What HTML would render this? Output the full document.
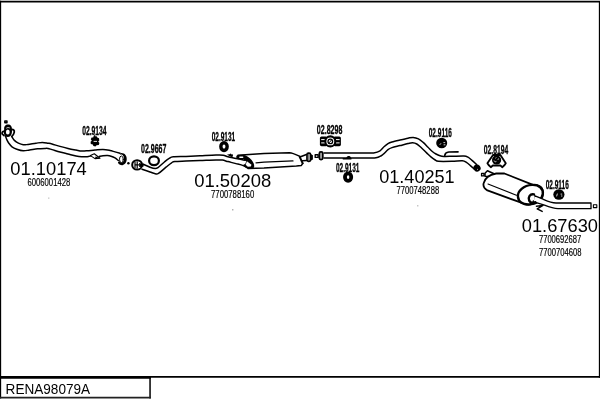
<!DOCTYPE html>
<html>
<head>
<meta charset="utf-8">
<title>RENA98079A</title>
<style>
html,body{margin:0;padding:0;background:#fff;}
body{width:600px;height:400px;overflow:hidden;position:relative;font-family:"Liberation Sans",sans-serif;}
svg{position:absolute;left:0;top:0;display:block;}
text{font-family:"Liberation Sans",sans-serif;fill:#000;}
.p{fill:none;stroke:#000;stroke-width:1.5;stroke-linecap:round;stroke-linejoin:round;}
.pw{fill:#fff;stroke:#000;stroke-width:1.5;stroke-linecap:round;stroke-linejoin:round;}
.t{fill:none;stroke:#000;stroke-width:2;stroke-linecap:round;stroke-linejoin:round;}
.tw{fill:#fff;stroke:#000;stroke-width:2;stroke-linecap:round;stroke-linejoin:round;}
.k{fill:#000;stroke:none;}
.w{fill:#fff;stroke:none;}
</style>
</head>
<body>
<svg width="600" height="400" viewBox="0 0 600 400">
<rect x="0" y="0" width="600" height="400" fill="#fff"/>
<!-- frame -->
<path d="M0.55 0.8V398.6" stroke="#000" stroke-width="1.2" fill="none"/>
<path d="M0 1.7H600" stroke="#000" stroke-width="1.7" fill="none"/>
<path d="M599.45 1V377.8" stroke="#000" stroke-width="1.2" fill="none"/>
<path d="M0 376.9H600" stroke="#000" stroke-width="1.8" fill="none"/>
<path d="M0 377.6H150.8" stroke="#000" stroke-width="2.4" fill="none"/>
<path d="M150.05 377V398.5" stroke="#000" stroke-width="1.5" fill="none"/>
<path d="M0 397.7H150.8" stroke="#222" stroke-width="1.7" fill="none"/>
<!-- text -->
<g style="opacity:0.999">
<text transform="translate(5.60 393.60) scale(0.9707 1)" style="font-size:14.0px;">RENA98079A</text>
<text transform="translate(10.30 174.80) scale(1.0365 1)" style="font-size:17.7px;">01.10174</text>
<text transform="translate(194.20 186.80) scale(1.0432 1)" style="font-size:17.7px;">01.50208</text>
<text transform="translate(379.20 183.00) scale(1.0229 1)" style="font-size:17.7px;">01.40251</text>
<text transform="translate(521.70 231.80) scale(1.0337 1)" style="font-size:17.7px;">01.67630</text>
<text transform="translate(27.40 185.60) scale(0.6967 1)" style="stroke:#000;stroke-width:0.2;font-size:11.1px;fill:#000;">6006001428</text>
<text transform="translate(211.00 197.70) scale(0.7000 1)" style="stroke:#000;stroke-width:0.2;font-size:11.1px;fill:#000;">7700788160</text>
<text transform="translate(396.40 193.70) scale(0.6935 1)" style="stroke:#000;stroke-width:0.2;font-size:11.1px;fill:#000;">7700748288</text>
<text transform="translate(538.90 242.50) scale(0.6870 1)" style="stroke:#000;stroke-width:0.2;font-size:11.1px;fill:#000;">7700692687</text>
<text transform="translate(538.90 255.80) scale(0.6903 1)" style="stroke:#000;stroke-width:0.2;font-size:11.1px;fill:#000;">7700704608</text>
<text transform="translate(82.15 135.00) scale(0.5401 1)" style="stroke:#000;stroke-width:0.35;font-size:12.5px;font-weight:bold;">02.9134</text>
<text transform="translate(141.05 153.00) scale(0.5600 1)" style="stroke:#000;stroke-width:0.35;font-size:12.5px;font-weight:bold;">02.9667</text>
<text transform="translate(211.65 141.00) scale(0.5202 1)" style="stroke:#000;stroke-width:0.35;font-size:12.5px;font-weight:bold;">02.9131</text>
<text transform="translate(316.85 133.70) scale(0.5645 1)" style="stroke:#000;stroke-width:0.35;font-size:12.5px;font-weight:bold;">02.8298</text>
<text transform="translate(335.95 171.80) scale(0.5202 1)" style="stroke:#000;stroke-width:0.35;font-size:12.5px;font-weight:bold;">02.9131</text>
<text transform="translate(428.75 137.20) scale(0.5202 1)" style="stroke:#000;stroke-width:0.35;font-size:12.5px;font-weight:bold;">02.9116</text>
<text transform="translate(483.85 153.80) scale(0.5401 1)" style="stroke:#000;stroke-width:0.35;font-size:12.5px;font-weight:bold;">02.8194</text>
<text transform="translate(545.65 189.00) scale(0.5202 1)" style="stroke:#000;stroke-width:0.35;font-size:12.5px;font-weight:bold;">02.9116</text>
</g>
<!-- drawing -->
<!-- specks -->
<rect x="48.3" y="197.6" width="1" height="1" fill="#999"/>
<rect x="232.3" y="209.2" width="1" height="1.2" fill="#777"/>
<rect x="417.3" y="205.2" width="1" height="1.2" fill="#999"/>

<!-- ===== front flange ===== -->
<rect class="pw" x="4.85" y="120.95" width="2.1" height="1.8" style="stroke-width:1.5"/>
<path class="k" d="M4.2 129.4C3.8 126.4 5.6 124.5 8 124.5C10.6 124.5 12.4 126.6 11.8 129.6C12.2 131 12 132 11.8 133C11.4 135.4 9.8 137 7.8 137C5.6 137 4 135.2 3.8 132.8C3.6 131.6 3.8 130.4 4.2 129.4Z"/>
<ellipse cx="7.8" cy="132" rx="1.9" ry="2.5" class="w"/>
<path d="M6.3 128.2C7.4 127.4 8.6 127.4 9.8 128" stroke="#fff" stroke-width="0.8" fill="none"/>
<path class="t" d="M11.4 129.4C13.6 129.2 14.6 130.6 14.2 132.4C13.8 134.2 13 135.4 11.8 136.4" style="stroke-width:1.8"/>
<path class="t" d="M3.6 131.4C2.2 131.8 1.6 133 2.4 134.2L4 135.6" style="stroke-width:1.7"/>
<!-- ===== front pipe 01.10174 ===== -->
<path class="p" d="M12.00 136.80C12.40 137.40 13.33 139.33 14.40 140.40C15.47 141.47 16.93 142.47 18.40 143.20C19.87 143.93 21.60 144.60 23.20 144.80C24.80 145.00 25.87 144.67 28.00 144.40C30.13 144.13 33.60 143.53 36.00 143.20C38.40 142.87 40.40 142.40 42.40 142.40C44.40 142.40 46.40 142.93 48.00 143.20C49.60 143.47 50.00 143.47 52.00 144.00C54.00 144.53 57.33 145.67 60.00 146.40C62.67 147.13 65.33 147.80 68.00 148.40C70.67 149.00 73.73 149.57 76.00 150.00C78.27 150.43 79.73 150.87 81.60 151.00C83.47 151.13 84.97 150.97 87.20 150.80C89.43 150.63 92.37 150.23 95.00 150.00C97.63 149.77 100.50 149.32 103.00 149.40C105.50 149.48 108.00 150.08 110.00 150.50C112.00 150.92 113.33 151.45 115.00 151.90C116.67 152.35 119.17 152.98 120.00 153.20"/>
<path class="p" d="M5.60 136.40C5.80 136.93 6.27 138.47 6.80 139.60C7.33 140.73 7.93 142.00 8.80 143.20C9.67 144.40 10.67 145.80 12.00 146.80C13.33 147.80 14.93 148.53 16.80 149.20C18.67 149.87 21.07 150.67 23.20 150.80C25.33 150.93 27.20 150.33 29.60 150.00C32.00 149.67 35.07 149.07 37.60 148.80C40.13 148.53 43.07 148.45 44.80 148.40C46.53 148.35 46.80 148.30 48.00 148.50C49.20 148.70 50.00 149.02 52.00 149.60C54.00 150.18 57.33 151.27 60.00 152.00C62.67 152.73 65.33 153.33 68.00 154.00C70.67 154.67 73.73 155.53 76.00 156.00C78.27 156.47 79.73 156.68 81.60 156.80C83.47 156.92 85.72 156.83 87.20 156.70C88.68 156.57 89.95 156.12 90.50 156.00"/>
<path class="p" d="M99.20 156.40C99.83 156.30 101.62 155.93 103.00 155.80C104.38 155.67 106.17 155.53 107.50 155.60C108.83 155.67 109.75 155.82 111.00 156.20C112.25 156.58 113.78 157.18 115.00 157.90C116.22 158.62 117.75 160.07 118.30 160.50"/>
<!-- bracket -->
<path class="pw" d="M90.4 155.6L94.3 153.8L100 158.2L95 158.6Z" style="stroke-width:1.1"/>
<path class="k" d="M95.5 156.4L100.4 158.2L95 159Z"/>
<!-- clamp 02.9134 -->
<path class="p" d="M94.8 135L94.6 137" style="stroke-width:1"/>
<path class="k" d="M93.5 136.3L96.6 136.2L97.3 137.6L99 138.2L99.3 140.6L98.2 141.5L99.4 143L98.8 145L96.6 145.2L95.4 146.4L93.4 146L92.8 144.6L90.8 144L90.6 141.8L91.8 140.8L90.8 139.2L91.6 137.4L93.2 137.4Z"/>
<rect class="w" x="93.6" y="140.9" width="3.4" height="0.9"/>
<!-- pipe-end flange -->
<g transform="translate(0.1 0.7)">
<path class="k" d="M120.6 152.4C124.5 152 127 155 126.6 159C126.2 162.6 123.6 165 120.6 164.4C119 164 118 162.8 117.8 161.4L119.6 160.6C120.6 162.2 122.4 162.4 123.4 160.4C124.4 158.4 124 155.6 122.4 154.4C121.6 153.8 120.6 153.8 119.6 154.2Z"/>
<ellipse cx="121.3" cy="158.6" rx="1.9" ry="3.3" class="pw" style="stroke-width:1"/>
</g>
<!-- dot -->
<circle cx="128.4" cy="163.3" r="1.25" class="k"/>
<!-- flange 2 -->
<ellipse cx="137.1" cy="164.9" rx="4.9" ry="4.7" class="tw" style="stroke-width:2"/>
<path class="p" d="M135 162V167.8M137.2 161.8V168M135 164.9H138.6" style="stroke-width:1.2"/>
<path class="k" d="M139 163L143.9 164.2L143.4 166.8L139.2 167Z"/>
<!-- ring 02.9667 -->
<ellipse cx="154" cy="160.8" rx="4.9" ry="4.4" class="tw" style="stroke-width:2.2"/>
<!-- ===== pipe 2 ===== -->
<path class="p" d="M142.80 164.00C144.00 164.53 147.93 166.43 150.00 167.20C152.07 167.97 153.87 168.53 155.20 168.60C156.53 168.67 156.47 168.70 158.00 167.60C159.53 166.50 162.53 163.53 164.40 162.00C166.27 160.47 167.73 159.27 169.20 158.40C170.67 157.53 170.40 157.13 173.20 156.80C176.00 156.47 181.53 156.57 186.00 156.40C190.47 156.23 195.00 156.02 200.00 155.80C205.00 155.58 212.13 155.20 216.00 155.10C219.87 155.00 221.20 154.92 223.20 155.20C225.20 155.48 225.87 156.27 228.00 156.80C230.13 157.33 233.27 157.83 236.00 158.40C238.73 158.97 243.00 159.90 244.40 160.20"/>
<path class="p" d="M142.00 169.20C143.33 169.67 147.67 171.20 150.00 172.00C152.33 172.80 154.53 173.80 156.00 174.00C157.47 174.20 157.13 174.33 158.80 173.20C160.47 172.07 163.87 168.93 166.00 167.20C168.13 165.47 170.13 163.73 171.60 162.80C173.07 161.87 172.40 161.88 174.80 161.60C177.20 161.32 181.80 161.27 186.00 161.10C190.20 160.93 195.00 160.78 200.00 160.60C205.00 160.42 212.27 160.08 216.00 160.00C219.73 159.92 220.40 159.83 222.40 160.10C224.40 160.37 225.73 161.02 228.00 161.60C230.27 162.18 233.47 162.93 236.00 163.60C238.53 164.27 241.37 164.93 243.20 165.60C245.03 166.27 246.37 167.27 247.00 167.60"/>
<!-- small hanger marks -->
<path class="k" d="M227 154.6L229.4 154.2L230.8 153.4L231.6 154.6L232.8 154.2L233 156.6L231.4 157L229.6 156.2Z"/>
<!-- rubber ring 02.9131 (1) -->
<ellipse cx="224" cy="146.6" rx="3.15" ry="3.85" class="tw" style="stroke-width:3.4"/>

<!-- ===== muffler 1 ===== -->
<path class="p" d="M238 155.3L264 153.4L289.5 152.7C293 152.9 296 154.6 300.6 156.8L306.4 154.5"/>
<path class="p" d="M248 168.4L264 167.9L296.4 166.1L301.4 165.4L302.7 163.4"/>
<path class="p" d="M299.7 156.9L302.7 163.4" style="stroke-width:2"/>
<path class="p" d="M302.4 160.8L306.6 160.4"/>
<path class="p" d="M256 162.8L264 162.1L293 160.9" style="stroke-width:1.2"/>
<!-- muffler front face -->
<path class="k" d="M236.3 156.6C236.4 155.6 237 155 238 154.9L243.4 154.8C246.4 155.4 249.6 157.6 251.6 160C253.4 162.2 254.4 164.6 254.2 166.6C254 167.8 253.4 168.6 252.4 168.7L247.8 168.8L244 166.8L243 165L245.4 163.8L246.2 161.2L244.2 160.6L243.8 159.3L238 159.2C237 159.1 236.3 158.4 236.3 157.6Z"/>
<rect class="w" x="239.2" y="156.5" width="4.2" height="1.5" rx="0.7"/>
<path class="w" d="M246.9 161.3L251.5 164.7L250.8 166.4L247.8 166.7L245.7 164.7Z"/>
<!-- outlet pipe -->
<rect x="307" y="153.1" width="3.6" height="8.2" rx="1.5" class="tw" style="stroke-width:1.7"/>
<path class="p" d="M308.8 154.2V160.2" style="stroke-width:0.7"/>
<path class="k" d="M311 154.2L312.9 155.2V159.4L311 160.4Z"/>
<!-- connector -->
<rect x="315.2" y="154.7" width="2.9" height="2.7" class="pw" style="stroke-width:1.4"/>
<rect x="319.3" y="151.9" width="3.5" height="7.8" rx="1.6" class="tw" style="stroke-width:1.7"/>
<path class="p" d="M321 153.4V158.4" style="stroke-width:0.7"/>
<!-- ===== pipe 3 ===== -->
<path class="p" d="M324 152.9H368 M368.00 152.95C368.93 152.94 371.60 153.26 373.60 152.90C375.60 152.54 378.27 151.82 380.00 150.80C381.73 149.78 382.67 148.00 384.00 146.80C385.33 145.60 386.67 144.40 388.00 143.60C389.33 142.80 390.00 142.60 392.00 142.00C394.00 141.40 397.33 140.63 400.00 140.00C402.67 139.37 405.80 138.63 408.00 138.20C410.20 137.77 411.47 137.30 413.20 137.40C414.93 137.50 416.73 137.97 418.40 138.80C420.07 139.63 421.60 141.00 423.20 142.40C424.80 143.80 426.53 145.73 428.00 147.20C429.47 148.67 430.67 150.07 432.00 151.20C433.33 152.33 434.67 153.23 436.00 154.00C437.33 154.77 438.67 155.40 440.00 155.80C441.33 156.20 442.00 156.32 444.00 156.40C446.00 156.48 448.67 156.37 452.00 156.30C455.33 156.23 461.33 155.85 464.00 156.00C466.67 156.15 466.67 156.47 468.00 157.20C469.33 157.93 470.60 159.20 472.00 160.40C473.40 161.60 475.67 163.73 476.40 164.40" />
<path class="p" d="M324 157.9H368 M368.00 157.95C369.33 157.92 373.87 158.12 376.00 157.80C378.13 157.48 379.47 156.70 380.80 156.00C382.13 155.30 382.80 154.67 384.00 153.60C385.20 152.53 386.67 150.60 388.00 149.60C389.33 148.60 390.00 148.27 392.00 147.60C394.00 146.93 397.33 146.27 400.00 145.60C402.67 144.93 405.90 144.07 408.00 143.60C410.10 143.13 411.13 142.73 412.60 142.80C414.07 142.87 415.30 143.13 416.80 144.00C418.30 144.87 420.00 146.57 421.60 148.00C423.20 149.43 424.80 151.07 426.40 152.60C428.00 154.13 429.73 155.97 431.20 157.20C432.67 158.43 434.00 159.32 435.20 160.00C436.40 160.68 435.60 161.08 438.40 161.30C441.20 161.52 448.00 161.38 452.00 161.30C456.00 161.22 460.00 160.62 462.40 160.80C464.80 160.98 465.07 161.60 466.40 162.40C467.73 163.20 469.17 164.57 470.40 165.60C471.63 166.63 473.23 168.10 473.80 168.60"/>
<!-- hanger bump under pipe 3 -->
<path class="k" d="M346.4 158C346.8 155.6 350.6 155.4 351 158Z"/>
<path class="p" d="M343.2 158.7H351" style="stroke-width:1.4"/>
<!-- pipe 3 end cap -->
<ellipse cx="477" cy="168" rx="3.5" ry="3.7" class="k" transform="rotate(-40 477 168)"/>
<rect class="w" x="477.2" y="168.9" width="0.8" height="0.8"/>
<!-- hook -->
<path class="p" d="M444.8 155.4C445 153.6 446.4 152.3 448.8 152L458 151.8" style="stroke-width:1.7"/>

<!-- clamp 02.8298 -->
<rect x="319.9" y="136.4" width="7.4" height="9.8" rx="1.6" class="k"/>
<rect x="333.4" y="136.4" width="7.5" height="9.8" rx="1.6" class="k"/>
<path d="M321.2 139.6H326M321.2 142.9H326M334.8 139.6H339.6M334.8 142.9H339.6" stroke="#fff" stroke-width="1" fill="none"/>
<circle cx="330.3" cy="141.4" r="5" class="tw" style="stroke-width:2.1"/>
<circle cx="330.3" cy="141.4" r="2.3" class="p" style="stroke-width:1.3"/>
<path class="p" d="M329.3 142.6L331.3 140.2" style="stroke-width:1"/>
<!-- rubber ring 02.9131 (2) -->
<ellipse cx="348.1" cy="177.1" rx="3.15" ry="3.8" class="tw" style="stroke-width:3.8"/>
<!-- clamp 02.9116 (1) -->
<ellipse cx="441.7" cy="143" rx="5.5" ry="5.3" class="k"/>
<path d="M439.8 144.8L441 143.3M443.4 142.6H445.2M443.6 144.8H445.4" stroke="#fff" stroke-width="0.8" fill="none"/>
<!-- clamp 02.9116 (2) -->
<ellipse cx="558.9" cy="194.5" rx="5.6" ry="5.2" class="k"/>
<path d="M556.6 196.4L557.4 193.6M560.6 194.1H562.2M561 196H562.4" stroke="#fff" stroke-width="0.8" fill="none"/>

<!-- mount 02.8194 -->
<path class="pw" d="M493 155L500.4 155L505.8 163.2L504.6 165L502.4 167.2L500.4 165.5L492.8 165.5L490.8 167.2L488.6 165L487.4 163.2Z" style="stroke-width:1.8"/>
<circle cx="496.6" cy="159.9" r="4.6" class="k"/>
<path d="M494 160.6C494.6 161.8 495.6 162 496.4 161.4M497.6 159.4L499 158.8M495.4 158.2L496.4 157.6" stroke="#fff" stroke-width="0.8" fill="none"/>

<!-- ===== rear muffler ===== -->
<!-- inlet -->
<rect x="481.6" y="173.4" width="2.4" height="2.5" class="pw" style="stroke-width:1.4"/>
<path class="pw" d="M485 173.2L487.4 170.8L494.6 174L489.6 176.6L485 176.2Z" style="stroke-width:1.5"/>
<path class="pw" d="M496.2 173.5L504.4 173.5L533 184.8C538 184 542.6 187 543 192C543.2 198 538 203.8 530 204.6C527.6 204.8 526 204.6 525.4 204.2L487.4 190.4C484.4 188.6 483 186 483.6 183.4C484.4 179.6 488 175 496.2 173.5Z" style="stroke-width:1.8"/>
<path class="p" d="M488 184L516.4 195.2" style="stroke-width:1.1"/>
<!-- rear face ellipse -->
<path class="tw" d="M518 197C517 191 524 185.4 532 184.9C539 184.6 543.4 188.4 542.8 194C542.2 199.6 536.4 204 529.6 204.4C523 204.8 518.6 201.8 518 197Z" style="stroke-width:2.4"/>
<!-- tail pipe -->
<path class="pw" d="M534.4 195.6L543 199.2C547 201 551 203 556 203L591 203V208.7L558 208.7C553 208.6 549 207 544.5 205.2L533 201.6Z" style="stroke-width:1.3"/>
<ellipse cx="532" cy="197.6" rx="2.6" ry="3.2" class="w"/>
<path class="t" d="M534 194.4C530 193.4 527.8 197.4 529.2 200.6C530.4 203 533 203.4 535.4 202.2" style="stroke-width:2.4"/>
<rect x="593.4" y="204.8" width="3.4" height="2.8" class="pw" style="stroke-width:1.1"/>
<!-- Z hanger -->
<path class="p" d="M536.4 206.2L543 205.4L537.2 208.8L542.2 211.4" style="stroke-width:1.4"/>

</svg>
</body>
</html>
